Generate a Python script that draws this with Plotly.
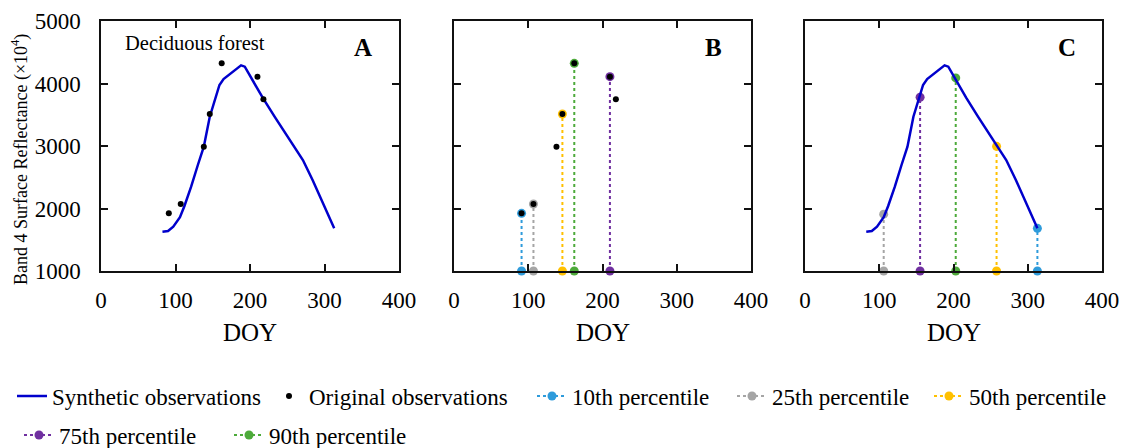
import plotly.graph_objects as go

# ---------------- data ----------------
synth_doy = [82.5, 90, 97, 106, 112, 121, 130, 138, 146, 152.5, 159, 164.5, 177, 188, 193, 204, 217, 233, 253, 271, 284, 297, 313]
synth_val = [1629, 1640, 1709, 1860, 2040, 2349, 2696, 2989, 3469, 3736, 3976, 4072, 4189, 4291, 4269, 4040, 3773, 3469, 3096, 2776, 2456, 2109, 1683]

obs_doy = [91, 107, 138, 146, 162, 210, 218]
obs_val = [1923, 2072, 2989, 3512, 4323, 4109, 3747]

pct_names = ["10th percentile", "25th percentile", "50th percentile", "75th percentile", "90th percentile"]
pct_colors = ["#2E9BDB", "#A5A5A5", "#FFC000", "#7030A0", "#4DAA3A"]

b_pct_doy = [91, 107, 146, 210, 162]
b_pct_val = [1923, 2072, 3512, 4109, 4323]

c_pct_doy = [313, 106, 258, 155, 203]
c_pct_val = [1683, 1910, 2995, 3780, 4090]

y_base = 1000
x_ticks = [0, 100, 200, 300, 400]
y_ticks = [1000, 2000, 3000, 4000, 5000]

# ---------------- geometry ----------------
W, H = 1123, 448
FONT = "Liberation Serif"
doms = [(101, 399), (454, 751), (805, 1102)]
y_top, y_bot = 21, 271

# legend placement (text start x in px, row centre y in px)
leg_text_x = [53, 310, 573, 773, 970, 60, 270]
leg_row_y = [396, 396, 396, 396, 396, 435, 435]
leg_ids = ["legend", "legend2", "legend3", "legend4", "legend5", "legend6", "legend7"]

fig = go.Figure()

def xa(i):
    return "x" if i == 0 else f"x{i+1}"

def ya(i):
    return "y" if i == 0 else f"y{i+1}"

# Panel A: synthetic line + observations
fig.add_trace(go.Scatter(x=synth_doy, y=synth_val, mode="lines",
                         line=dict(color="#0000CC", width=2.5),
                         name="Synthetic observations", legend=leg_ids[0],
                         xaxis=xa(0), yaxis=ya(0)))
fig.add_trace(go.Scatter(x=obs_doy, y=obs_val, mode="markers",
                         marker=dict(color="black", size=6),
                         name="Original observations", legend=leg_ids[1],
                         xaxis=xa(0), yaxis=ya(0)))

# Panel B: percentile stems then observations
for k in range(5):
    fig.add_trace(go.Scatter(x=[b_pct_doy[k], b_pct_doy[k]], y=[y_base, b_pct_val[k]],
                             mode="lines+markers",
                             line=dict(color=pct_colors[k], width=2, dash="dot"),
                             marker=dict(color=pct_colors[k], size=9),
                             name=pct_names[k], legendgroup=pct_names[k],
                             cliponaxis=False, legend=leg_ids[2 + k],
                             xaxis=xa(1), yaxis=ya(1)))
fig.add_trace(go.Scatter(x=obs_doy, y=obs_val, mode="markers",
                         marker=dict(color="black", size=6), showlegend=False,
                         xaxis=xa(1), yaxis=ya(1)))

# Panel C: percentile stems then synthetic line
for k in range(5):
    fig.add_trace(go.Scatter(x=[c_pct_doy[k], c_pct_doy[k]], y=[y_base, c_pct_val[k]],
                             mode="lines+markers",
                             line=dict(color=pct_colors[k], width=2, dash="dot"),
                             marker=dict(color=pct_colors[k], size=9),
                             showlegend=False, legendgroup=pct_names[k],
                             cliponaxis=False, xaxis=xa(2), yaxis=ya(2)))
fig.add_trace(go.Scatter(x=synth_doy, y=synth_val, mode="lines",
                         line=dict(color="#0000CC", width=2.5), showlegend=False,
                         xaxis=xa(2), yaxis=ya(2)))

axis_common = dict(showline=True, linecolor="#111", linewidth=1.5, mirror="ticks",
                   ticks="inside", ticklen=7, tickwidth=1.5, tickcolor="#111",
                   showgrid=False, zeroline=False, automargin=False,
                   tickfont=dict(family=FONT, size=23, color="black"))

layout = dict(width=W, height=H, margin=dict(l=0, r=0, t=0, b=0, autoexpand=False),
              paper_bgcolor="white", plot_bgcolor="white",
              font=dict(family=FONT, color="black"))

for i, (x0, x1) in enumerate(doms):
    kx = "xaxis" if i == 0 else f"xaxis{i+1}"
    ky = "yaxis" if i == 0 else f"yaxis{i+1}"
    layout[kx] = dict(axis_common, domain=[x0 / W, x1 / W], range=[0, 400],
                      tickvals=x_ticks, anchor=ya(i), ticklabelstandoff=8)
    layout[ky] = dict(axis_common, domain=[1 - y_bot / H, 1 - y_top / H], range=[1000, 5000],
                      tickvals=y_ticks, anchor=xa(i), showticklabels=(i == 0),
                      ticklabelstandoff=14)

for lid, tx, ry in zip(leg_ids, leg_text_x, leg_row_y):
    layout[lid] = dict(orientation="h", x=(tx - 41) / W, xanchor="left",
                       y=1 - ry / H, yanchor="middle",
                       font=dict(family=FONT, size=23, color="black"),
                       bgcolor="rgba(0,0,0,0)")

ann = []
ann.append(dict(text="Band 4 Surface Reflectance (×10<sup>4</sup>)", x=20 / W, y=1 - 160 / H,
                xref="paper", yref="paper", textangle=-90, showarrow=False,
                xanchor="center", yanchor="middle", font=dict(family=FONT, size=18)))
for (x0, x1) in doms:
    ann.append(dict(text="DOY", x=(x0 + x1) / 2 / W, y=1 - 332 / H, xref="paper", yref="paper",
                    showarrow=False, xanchor="center", yanchor="middle", font=dict(family=FONT, size=25)))
for letter, lx in zip(["A", "B", "C"], [363, 713, 1067]):
    ann.append(dict(text=f"<b>{letter}</b>", x=lx / W, y=1 - 48 / H, xref="paper", yref="paper",
                    showarrow=False, xanchor="center", yanchor="middle", font=dict(family=FONT, size=25)))
ann.append(dict(text="Deciduous forest", x=123 / W, y=1 - 43 / H, xref="paper", yref="paper",
                showarrow=False, xanchor="left", yanchor="middle", font=dict(family=FONT, size=20.5)))
layout["annotations"] = ann

fig.update_layout(layout)
fig.write_html("out.html")
